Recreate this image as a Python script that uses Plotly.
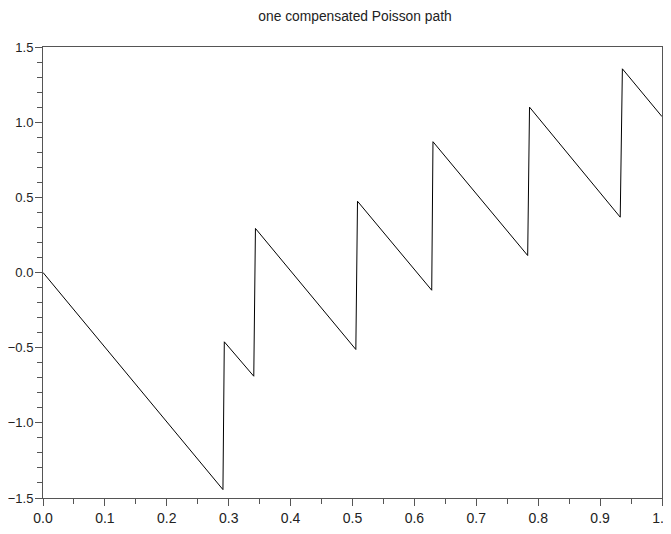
import plotly.graph_objects as go

# Path vertices
t_values = [0, 0.2907, 0.2929, 0.3405, 0.3432, 0.5054, 0.5081, 0.628, 0.630,
            0.783, 0.786, 0.9325, 0.936, 1.0]
y_values = [0, -1.444, -0.461, -0.690, 0.293, -0.512, 0.474, -0.118, 0.870,
            0.113, 1.100, 0.368, 1.355, 1.037]

x_ticks = [0.0, 0.1, 0.2, 0.3, 0.4, 0.5, 0.6, 0.7, 0.8, 0.9, 1.0]
y_ticks = [-1.5, -1.0, -0.5, 0.0, 0.5, 1.0, 1.5]
title_text = "one compensated Poisson path"


def fmt(v):
    return f"{v:.1f}".replace("-", "\u2212")


axis_col = "#555555"
fam = "Liberation Sans, Arial, sans-serif"
font = dict(family=fam, size=14, color="#222222")

W, H = 655, 518  # page body has an 8px margin; visible area is 8..663

fig = go.Figure(go.Scatter(x=t_values, y=y_values, mode="lines",
                           line=dict(color="black", width=1)))

fig.update_layout(
    width=W, height=H,
    margin=dict(l=35, r=1, t=39, b=28, autoexpand=False),
    paper_bgcolor="white", plot_bgcolor="white",
    showlegend=False,
    font=font,
    title=dict(text=title_text, x=347 / W, xref="container", xanchor="center",
               y=1 - 7.7 / H, yanchor="middle",
               font=dict(family=fam, size=13.8, color="#222222")),
)

fig.update_xaxes(
    range=[0, 1], tickvals=x_ticks, ticktext=[fmt(v) for v in x_ticks],
    ticklabeloverflow="allow",
    showgrid=False, zeroline=False, automargin=False,
    showline=True, linecolor=axis_col, linewidth=1, mirror=True,
    ticks="outside", ticklen=7, tickcolor=axis_col, tickwidth=1,
    minor=dict(dtick=0.05, tick0=0, ticks="outside", ticklen=5, tickcolor=axis_col, showgrid=False),
)
fig.update_yaxes(
    range=[-1.5, 1.5], tickvals=y_ticks, ticktext=[fmt(v) for v in y_ticks],
    tickfont=dict(family=fam, size=13, color="#222222"), ticklabelstandoff=-1,
    showgrid=False, zeroline=False, automargin=False,
    showline=True, linecolor=axis_col, linewidth=1, mirror=True,
    ticks="outside", ticklen=7, tickcolor=axis_col, tickwidth=1,
    minor=dict(dtick=0.1, tick0=0, ticks="outside", ticklen=5, tickcolor=axis_col, showgrid=False),
)

fig.write_html("out.html")
